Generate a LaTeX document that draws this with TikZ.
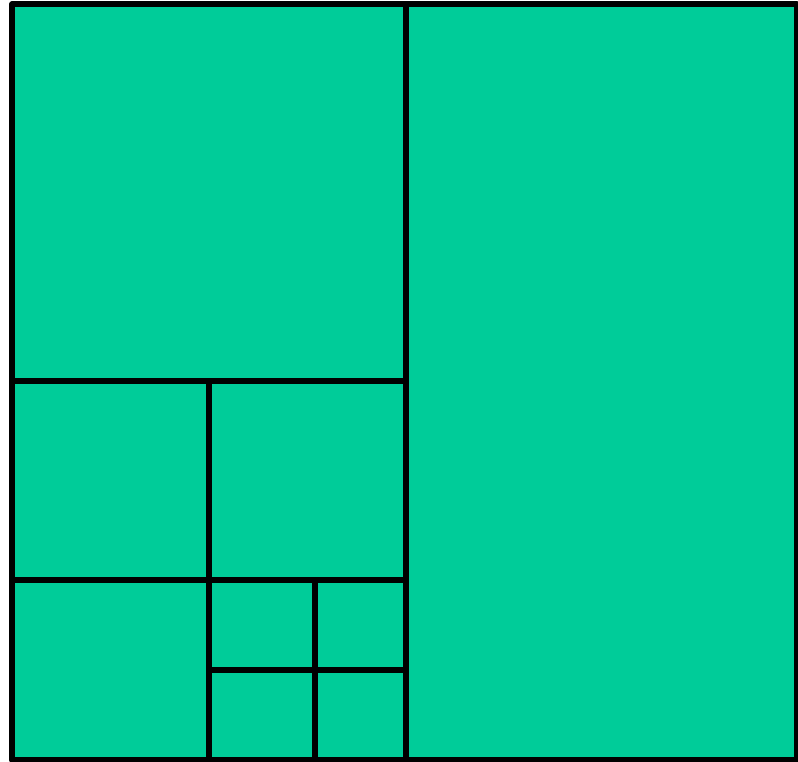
\documentclass[tikz,border=0pt]{standalone}
\definecolor{tilegreen}{RGB}{0,204,153}
\begin{document}
\begin{tikzpicture}[x=0.01cm,y=-0.01cm,tile/.style={draw=black,fill=tilegreen,line width=0.06cm,line join=round}]
\useasboundingbox (0,0) rectangle (798,762);
\clip (0,0) rectangle (798,762);
% big tiles
\draw[tile] (405.5,4.5) rectangle (797,760);
\draw[tile] (12,4.5) rectangle (405.5,381);
% middle row
\draw[tile] (12,381) rectangle (209,580);
\draw[tile] (209,381) rectangle (405.5,580);
\draw[tile] (12,580) rectangle (209,760);
% small tiles
\draw[tile] (209,580) rectangle (314.5,670);
\draw[tile] (314.5,580) rectangle (405.5,670);
\draw[tile] (209,670) rectangle (314.5,760);
\draw[tile] (314.5,670) rectangle (405.5,760);
\end{tikzpicture}
\end{document}
